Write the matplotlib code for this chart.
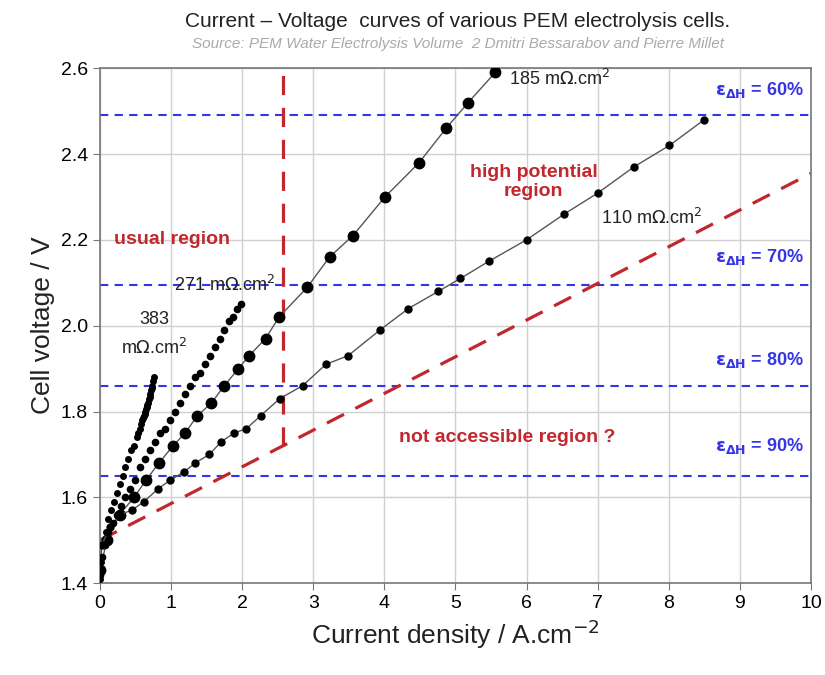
import matplotlib.pyplot as plt
import numpy as np

plt.rcParams['font.family'] = ['Liberation Sans', 'DejaVu Sans']

# Curve data (current density A/cm2, cell voltage V)
j_185 = [0.0, 0.10, 0.28, 0.48, 0.65, 0.83, 1.03, 1.20, 1.37, 1.57, 1.75, 1.95,
         2.10, 2.33, 2.52, 2.92, 3.23, 3.56, 4.01, 4.49, 4.87, 5.18, 5.56]
v_185 = [1.43, 1.50, 1.56, 1.60, 1.64, 1.68, 1.72, 1.75, 1.79, 1.82, 1.86, 1.90,
         1.93, 1.97, 2.02, 2.09, 2.16, 2.21, 2.30, 2.38, 2.46, 2.52, 2.59]

j_110 = [0.0, 0.03, 0.14, 0.28, 0.45, 0.62, 0.82, 0.99, 1.19, 1.34, 1.54, 1.71,
         1.89, 2.06, 2.26, 2.53, 2.85, 3.18, 3.49, 3.94, 4.34, 4.76, 5.07, 5.47,
         6.00, 6.53, 7.01, 7.51, 8.01, 8.50]
v_110 = [1.43, 1.49, 1.53, 1.56, 1.57, 1.59, 1.62, 1.64, 1.66, 1.68, 1.70, 1.73,
         1.75, 1.76, 1.79, 1.83, 1.86, 1.91, 1.93, 1.99, 2.04, 2.08, 2.11, 2.15,
         2.20, 2.26, 2.31, 2.37, 2.42, 2.48]

j_271 = [0.0, 0.03, 0.07, 0.12, 0.18, 0.24, 0.30, 0.36, 0.42, 0.49, 0.56, 0.63,
         0.70, 0.77, 0.84, 0.91, 0.99, 1.06, 1.13, 1.20, 1.27, 1.34, 1.41, 1.48,
         1.55, 1.62, 1.69, 1.75, 1.81, 1.87, 1.93, 1.99]
v_271 = [1.42, 1.46, 1.49, 1.52, 1.54, 1.56, 1.58, 1.60, 1.62, 1.64, 1.67, 1.69,
         1.71, 1.73, 1.75, 1.76, 1.78, 1.80, 1.82, 1.84, 1.86, 1.88, 1.89, 1.91,
         1.93, 1.95, 1.97, 1.99, 2.01, 2.02, 2.04, 2.05]

j_383 = [0.0, 0.02, 0.05, 0.08, 0.12, 0.16, 0.20, 0.24, 0.28, 0.32, 0.36, 0.40,
         0.44, 0.48, 0.52, 0.54, 0.56, 0.58, 0.60, 0.61, 0.62, 0.63, 0.64, 0.65,
         0.66, 0.67, 0.68, 0.69, 0.70, 0.71, 0.72, 0.73, 0.74, 0.75, 0.76]
v_383 = [1.41, 1.45, 1.49, 1.52, 1.55, 1.57, 1.59, 1.61, 1.63, 1.65, 1.67, 1.69,
         1.71, 1.72, 1.74, 1.75, 1.76, 1.77, 1.78, 1.785, 1.79, 1.795, 1.80, 1.805,
         1.81, 1.815, 1.82, 1.83, 1.835, 1.84, 1.85, 1.855, 1.86, 1.87, 1.88]

# efficiency lines
eff_labels = ['60%', '70%', '80%', '90%']
eff_v = [2.49, 2.095, 1.86, 1.65]
eff_text_y = [2.55, 2.16, 1.92, 1.72]

# accessible-region boundary
bound_j = [0, 10]
bound_v = [1.50, 2.355]
usual_limit_j = 2.57

fig = plt.figure(figsize=(8.25, 6.75), dpi=100)
ax = fig.add_axes([0.121, 0.136, 0.862, 0.763])

red = '#C1272D'
blue = '#3535E6'

for v in eff_v:
    ax.axhline(v, color=blue, ls=(0, (4, 3)), lw=1.5, zorder=2)

ax.plot(bound_j, bound_v, color=red, ls=(0, (6, 4)), lw=2.3, zorder=2)
v_at_limit = np.interp(usual_limit_j, bound_j, bound_v)
ax.plot([usual_limit_j, usual_limit_j], [v_at_limit, 2.6], color=red,
        ls=(0, (6, 4)), lw=2.3, zorder=2)

ax.plot(j_185, v_185, color='#555555', lw=1, marker='o', ms=7.5,
        mfc='black', mec='black', zorder=4)
ax.plot(j_110, v_110, color='#555555', lw=1, marker='o', ms=5,
        mfc='black', mec='black', zorder=4)
ax.plot(j_271, v_271, ls='none', marker='o', ms=4.5, color='black', zorder=4)
ax.plot(j_383, v_383, ls='none', marker='o', ms=4, color='black', zorder=4)

# curve labels
ax.text(5.75, 2.575, r'185 m$\Omega$.cm$^2$', fontsize=13, color='#222222', va='center')
ax.text(7.05, 2.25, r'110 m$\Omega$.cm$^2$', fontsize=13, color='#222222', va='center')
ax.text(1.05, 2.095, r'271 m$\Omega$.cm$^2$', fontsize=13, color='#222222', va='center')
ax.text(0.76, 1.98, '383\n' + r'm$\Omega$.cm$^2$', fontsize=13, color='#222222',
        va='center', ha='center', linespacing=1.6)

# region labels
ax.text(0.2, 2.2, 'usual region', fontsize=14, color=red, fontweight='bold', va='center')
ax.text(6.1, 2.335, 'high potential\nregion', fontsize=14, color=red,
        fontweight='bold', va='center', ha='center')
ax.text(4.2, 1.74, 'not accessible region ?', fontsize=14, color=red,
        fontweight='bold', va='center')

for lab, ty in zip(eff_labels, eff_text_y):
    ax.text(9.9, ty, r'$\mathbf{\varepsilon_{\Delta H}}$ = ' + lab, fontsize=13,
            color=blue, fontweight='bold', ha='right', va='center')

ax.set_xlim(0, 10)
ax.set_ylim(1.4, 2.6)
ax.set_xticks(np.arange(0, 11, 1))
ax.set_yticks(np.arange(1.4, 2.61, 0.2))
ax.yaxis.set_major_formatter(plt.FormatStrFormatter('%.1f'))
ax.grid(True, color='#D0D0D0', lw=1)
ax.set_axisbelow(True)
ax.tick_params(labelsize=14, direction='out', length=5, color='#777777')
for s in ax.spines.values():
    s.set_color('#777777')
    s.set_linewidth(1.2)

ax.set_xlabel(r'Current density / A.cm$^{-2}$', fontsize=19, color='#222222')
ax.set_ylabel('Cell voltage / V', fontsize=19, color='#222222')

fig.text(0.555, 0.968, 'Current \u2013 Voltage  curves of various PEM electrolysis cells.',
         fontsize=15, ha='center', va='center', color='#222222')
fig.text(0.555, 0.935, 'Source: PEM Water Electrolysis Volume  2 Dmitri Bessarabov and Pierre Millet',
         fontsize=11, ha='center', va='center', color='#AAAAAA', style='italic')

fig.savefig('out.png', dpi=100)
